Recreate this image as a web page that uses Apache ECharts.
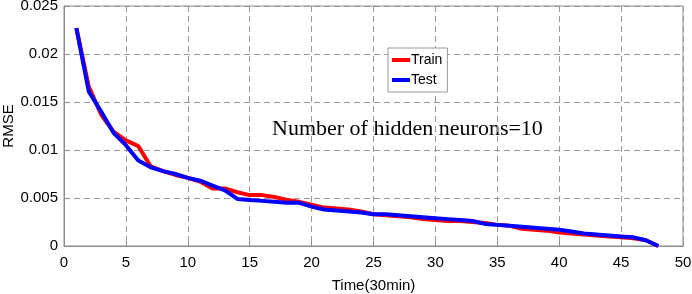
<!DOCTYPE html>
<html>
<head>
<meta charset="utf-8">
<script src="https://cdn.jsdelivr.net/npm/echarts@6/dist/echarts.min.js"></script>
<style>
  html, body { margin: 0; padding: 0; background: #fff; }
  #main { width: 692px; height: 294px; }
</style>
</head>
<body>
<div id="main"></div>
<script>
// time steps (30 min each)
var steps = [];
for (var i = 1; i <= 48; i++) steps.push(i);

// RMSE
var trainRmse = [0.0227, 0.0166, 0.0137, 0.0119, 0.0110, 0.0104, 0.0083, 0.0078, 0.0074, 0.0071,
                 0.0067, 0.0060, 0.0060, 0.0056, 0.0053, 0.0053, 0.0051, 0.0048, 0.0046, 0.0043,
                 0.0040, 0.0039, 0.0038, 0.0036, 0.0033, 0.0032, 0.0031, 0.0030, 0.0028, 0.0027,
                 0.0026, 0.0026, 0.0025, 0.0024, 0.0022, 0.0021, 0.0018, 0.0017, 0.0016, 0.0014,
                 0.0013, 0.0012, 0.0011, 0.0010, 0.0009, 0.0008, 0.0006, 0.0000];
var testRmse  = [0.0227, 0.0161, 0.0140, 0.0118, 0.0105, 0.0089, 0.0082, 0.0078, 0.0075, 0.0071,
                 0.0068, 0.0063, 0.0058, 0.0049, 0.0048, 0.0047, 0.0046, 0.0045, 0.0045, 0.0041,
                 0.0038, 0.0037, 0.0036, 0.0035, 0.0033, 0.0033, 0.0032, 0.0031, 0.0030, 0.0029,
                 0.0028, 0.0027, 0.0026, 0.0023, 0.0022, 0.0021, 0.0020, 0.0019, 0.0018, 0.0017,
                 0.0015, 0.0013, 0.0012, 0.0011, 0.0010, 0.0009, 0.0006, 0.0000];

var myChart = echarts.init(document.getElementById('main'));

function pairs(ys) {
    return ys.map(function (v, i) { return [steps[i], v]; });
}

var option = {
    backgroundColor: '#fff',
    animation: false,
    grid: {
        left: 64, right: 9, top: 6, bottom: 48,
        containLabel: false, outerBoundsMode: 'none',
        show: true, borderColor: '#8c8c8c', borderWidth: 1
    },
    legend: {
        left: 388, top: 48,
        orient: 'vertical',
        backgroundColor: '#fff',
        borderColor: '#999', borderWidth: 1, borderRadius: 0,
        padding: [5, 5, 5, 4],
        itemGap: 6,
        itemWidth: 18, itemHeight: 4,
        icon: 'rect',
        textStyle: { fontFamily: 'Liberation Sans', fontSize: 14, color: '#000', padding: [0, 0, 0, -4] },
        data: ['Train', 'Test']
    },
    graphic: [{
        type: 'text', left: 272, top: 118,
        style: { text: 'Number of hidden neurons=10', font: '22px "Liberation Serif"', fill: '#000' }
    }],
    xAxis: {
        type: 'value', min: 0, max: 50, interval: 5,
        name: 'Time(30min)', nameLocation: 'middle', nameGap: 32, nameMoveOverlap: false,
        nameTextStyle: { fontFamily: 'Liberation Sans', fontSize: 15, color: '#000' },
        axisLine: { lineStyle: { color: '#8c8c8c' } },
        axisTick: { inside: true, length: 4, lineStyle: { color: '#8c8c8c' } },
        axisLabel: { fontFamily: 'Liberation Sans', fontSize: 15, color: '#000', margin: 9 },
        splitLine: { lineStyle: { type: [6, 4], color: '#999' } }
    },
    yAxis: {
        type: 'value', min: 0, max: 0.025, interval: 0.005,
        name: 'RMSE', nameLocation: 'middle', nameGap: 48, nameMoveOverlap: false,
        nameTextStyle: { fontFamily: 'Liberation Sans', fontSize: 15, color: '#000' },
        axisLine: { show: true, lineStyle: { color: '#8c8c8c' } },
        axisTick: { show: true, inside: true, length: 4, lineStyle: { color: '#8c8c8c' } },
        axisLabel: { fontFamily: 'Liberation Sans', fontSize: 15, color: '#000', margin: 6 },
        splitLine: { lineStyle: { type: [6, 4], color: '#999' } }
    },
    series: [{
        name: 'Train', type: 'line', data: pairs(trainRmse),
        showSymbol: false, color: '#ff0000',
        lineStyle: { width: 4, color: '#ff0000' }
    }, {
        name: 'Test', type: 'line', data: pairs(testRmse),
        showSymbol: false, color: '#0000ff',
        lineStyle: { width: 4, color: '#0000ff' }
    }]
};

myChart.setOption(option);
</script>
</body>
</html>
